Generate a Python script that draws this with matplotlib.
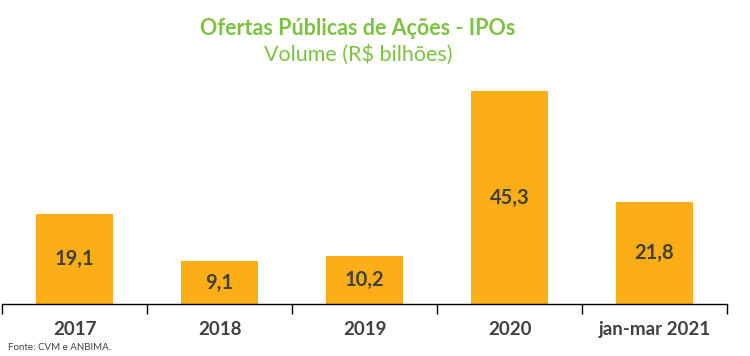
"""Ofertas Públicas de Ações - IPOs: volume em R$ bilhões."""

import matplotlib

matplotlib.use("Agg")

import matplotlib.pyplot as plt

CATEGORIES = ["2017", "2018", "2019", "2020", "jan-mar 2021"]
VOLUMES = [19.1, 9.1, 10.2, 45.3, 21.8]
VALUE_LABELS = ["19,1", "9,1", "10,2", "45,3", "21,8"]

GREEN = "#7DC242"
ORANGE = "#FBAE17"
DARK = "#404040"

plt.rcParams["font.family"] = ["Lato", "DejaVu Sans"]

fig = plt.figure(figsize=(7.5, 3.56), dpi=100)
ax = fig.add_axes([0.0027, 0.146, 0.9667, 0.629])

x = list(range(len(CATEGORIES)))
ax.bar(x, VOLUMES, width=0.525, color=ORANGE)
for xi, v, lab in zip(x, VOLUMES, VALUE_LABELS):
    ax.text(xi, v / 2, lab, ha="center", va="center", fontsize=14.5,
            fontweight="bold", color=DARK)

ax.set_xlim(-0.5, len(CATEGORIES) - 0.5)
ax.set_ylim(0, 47.7)
for side in ("top", "right", "left"):
    ax.spines[side].set_visible(False)
ax.spines["bottom"].set_color("black")
ax.spines["bottom"].set_linewidth(1.0)
ax.set_yticks([])

# boundary ticks between categories, labels centred on the bars
ax.set_xticks([i - 0.5 for i in range(len(CATEGORIES) + 1)], minor=False)
ax.set_xticklabels([])
ax.tick_params(axis="x", which="major", length=7, width=1.0, color="black")
ax.set_xticks(x, minor=True)
ax.set_xticklabels(CATEGORIES, minor=True, fontsize=13.5, fontweight="bold", color=DARK)
ax.tick_params(axis="x", which="minor", length=0, pad=12)

fig.text(0.477, 0.92, "Ofertas Públicas de Ações - IPOs", ha="center", va="center",
         fontsize=15.5, fontweight="bold", color=GREEN)
fig.text(0.477, 0.848, "Volume (R$ bilhões)", ha="center", va="center",
         fontsize=15.5, color=GREEN)
fig.text(0.011, 0.012, "Fonte: CVM e ANBIMA.", ha="left", va="bottom",
         fontsize=7, color=DARK)

fig.savefig("out.png", dpi=100, facecolor="white")
plt.close(fig)
